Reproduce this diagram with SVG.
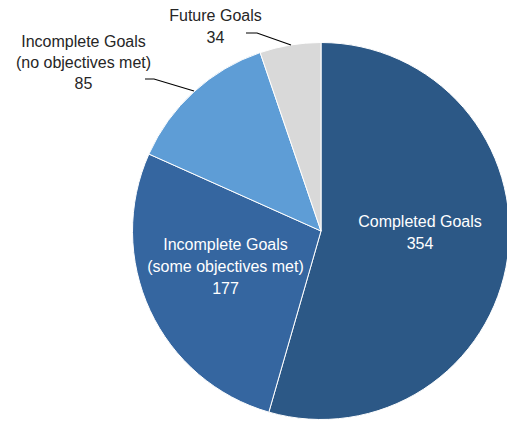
<svg xmlns="http://www.w3.org/2000/svg" width="507" height="422" viewBox="0 0 507 422">
<style>
.sl{stroke:#fff;stroke-width:1;stroke-linejoin:round}
text{font-family:"Liberation Sans",Arial,sans-serif;font-size:16px;text-anchor:middle}
.out{fill:#262626}
.in{fill:#fff}
.ld{fill:none;stroke:#000;stroke-width:1.2}
</style>
<rect width="507" height="422" fill="#fff"/>
<g id="slice-completed">
<path class="sl" fill="#2C5886" d="M321,231 L321,42.5 A188.5,188.5 0 1 1 268.85,412.14 Z"/>
<text class="in" x="420" y="227">Completed Goals</text>
<text class="in" x="420" y="249">354</text>
</g>
<g id="slice-some">
<path class="sl" fill="#3566A0" d="M321,231 L268.85,412.14 A188.5,188.5 0 0 1 148.92,154.06 Z"/>
<text class="in" x="225.5" y="250">Incomplete Goals</text>
<text class="in" x="225.5" y="272">(some objectives met)</text>
<text class="in" x="225.5" y="294">177</text>
</g>
<g id="slice-none">
<path class="sl" fill="#5E9DD6" d="M321,231 L148.92,154.06 A188.5,188.5 0 0 1 260.16,52.59 Z"/>
<text class="out" x="83.5" y="46.5">Incomplete Goals</text>
<text class="out" x="83.5" y="67.5">(no objectives met)</text>
<text class="out" x="83.5" y="88.5">85</text>
</g>
<g id="slice-future">
<path class="sl" fill="#D9D9D9" d="M321,231 L260.16,52.59 A188.5,188.5 0 0 1 321,42.5 Z"/>
<text class="out" x="215.5" y="21">Future Goals</text>
<text class="out" x="215.5" y="42.5">34</text>
</g>
<g id="connectors">
<polyline class="ld" points="246,33 257,33 291,45"/>
<polyline class="ld" points="145,79 154,79 194,91"/>
</g>
</svg>
